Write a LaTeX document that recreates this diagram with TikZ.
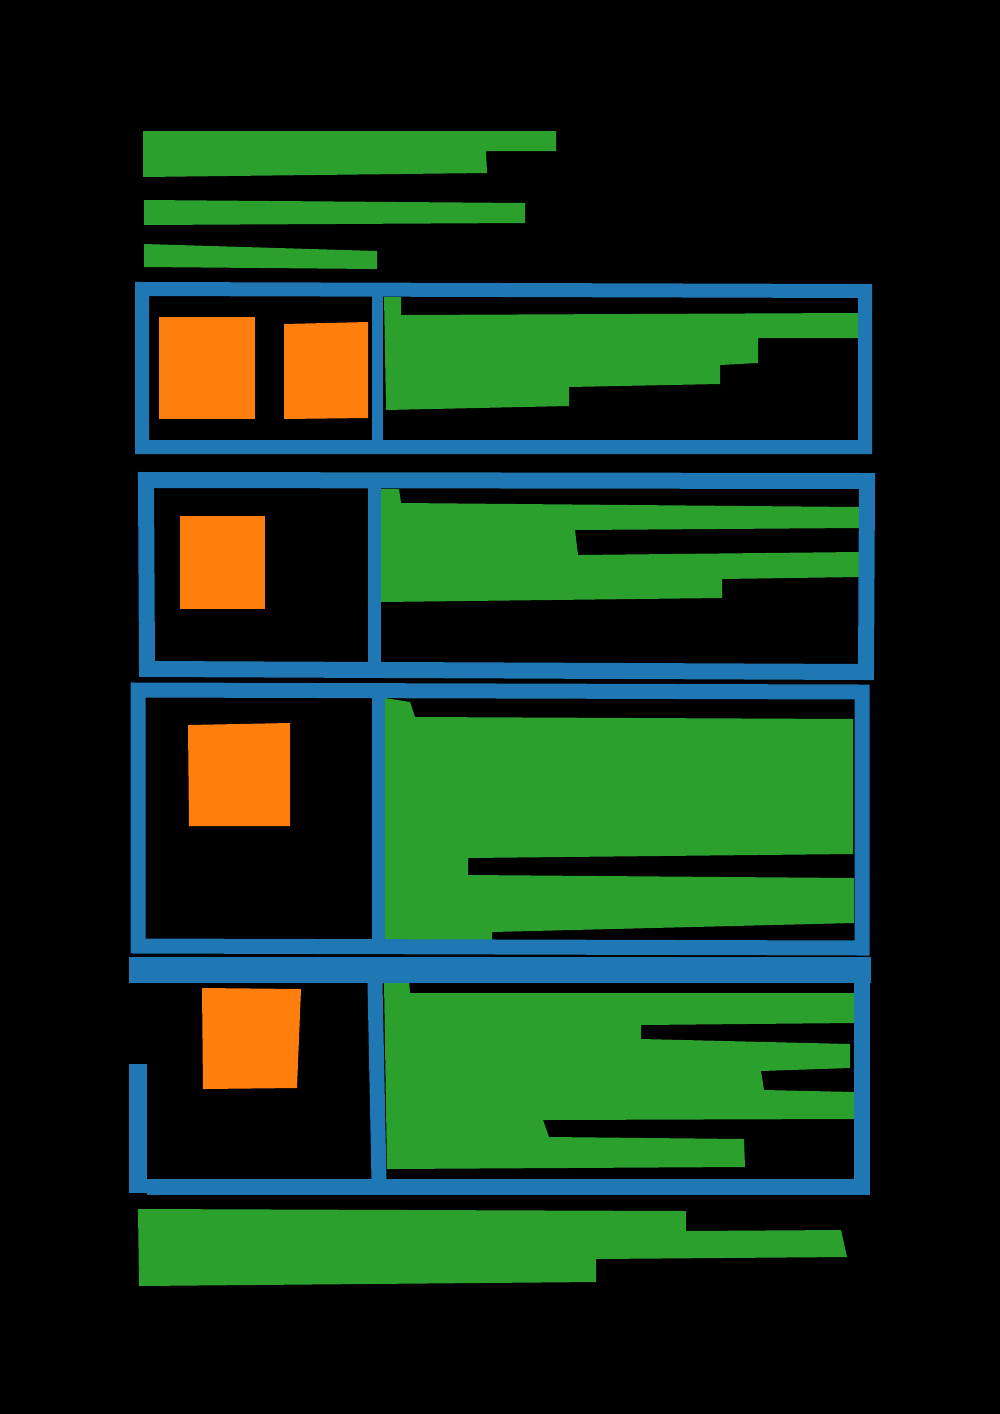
\documentclass[tikz,border=0pt]{standalone}
\usepackage{tikz}
\definecolor{tabgreen}{HTML}{2CA02C}
\definecolor{tabblue}{HTML}{1F77B4}
\definecolor{taborange}{HTML}{FF7F0E}
\tikzstyle{textblock} = [fill=tabgreen]
\tikzstyle{pictblock} = [fill=taborange]
\tikzstyle{frame} = [draw=tabblue, line join=miter]

\begin{document}
\begin{tikzpicture}[x=1pt, y=-1pt]
    \fill[black] (0,0) rectangle (1000,1414);
    \useasboundingbox (0,0) rectangle (1000,1414);

    % header lines
    \path[textblock] (143,131) -- (556,131) -- (556,151) -- (486,151) -- (487,173) -- (143,177) -- cycle;
    \path[textblock] (144,200) -- (525,203) -- (525,223) -- (144,225) -- cycle;
    \path[textblock] (144,244) -- (377,251) -- (377,269) -- (144,267) -- cycle;

    % first row
    \path[pictblock] (159,317) rectangle (255,419);
    \path[pictblock] (284,324) -- (368,322) -- (368,418) -- (284,419) -- cycle;
    \path[textblock] (384,297) -- (401,297) -- (401,315) -- (858,313) -- (858,338) -- (758,338)
        -- (758,363) -- (720,365) -- (720,384) -- (569,387) -- (569,406) -- (386,410) -- cycle;
    \draw[frame, line width=14pt] (142,289) -- (865,291) -- (865,447) -- (142,447) -- cycle;
    \draw[frame, line width=11pt] (377,291) -- (377,446);

    % second row
    \path[pictblock] (180,516) rectangle (265,609);
    \path[textblock] (381,489) -- (399,489) -- (401,503) -- (859,507) -- (859,528) -- (575,530)
        -- (578,555) -- (859,552) -- (859,577) -- (722,579) -- (722,598) -- (381,602) -- cycle;
    \draw[frame, line width=16pt] (146,480) -- (867,481) -- (866,672) -- (147,669) -- cycle;
    \draw[frame, line width=13pt] (374,482) -- (374,668);

    % third row
    \path[pictblock] (188,725) -- (290,723) -- (290,826) -- (189,826) -- cycle;
    \path[textblock] (385,698) -- (410,702) -- (415,717) -- (853,719) -- (853,854) -- (468,858)
        -- (468,875) -- (854,878) -- (854,923) -- (492,932) -- (492,944) -- (383,944) -- cycle;
    \draw[frame, line width=15pt] (138,690) -- (862,692) -- (862,948) -- (138,946) -- cycle;
    \draw[frame, line width=13pt] (378,692) -- (378,946);

    % fourth row, left side left open
    \path[pictblock] (202,988) -- (301,989) -- (297,1088) -- (203,1089) -- cycle;
    \path[textblock] (384,982) -- (409,980) -- (410,993) -- (854,993) -- (854,1023) -- (641,1025)
        -- (641,1039) -- (850,1044) -- (850,1068) -- (761,1071) -- (764,1090) -- (854,1092)
        -- (854,1119) -- (543,1120) -- (549,1137) -- (744,1139) -- (745,1167) -- (387,1169) -- cycle;
    \draw[frame, line width=26pt] (129,970) -- (871,970);
    \draw[frame, line width=16pt] (862,983) -- (862,1187) -- (147,1187);
    \draw[frame, line width=18pt] (138,1064) -- (138,1193);
    \draw[frame, line width=15pt] (375,983) -- (379,1181);

    % closing lines
    \path[textblock] (138,1209) -- (686,1211) -- (686,1231) -- (841,1230) -- (847,1257)
        -- (596,1259) -- (596,1282) -- (139,1286) -- cycle;
\end{tikzpicture}
\end{document}
